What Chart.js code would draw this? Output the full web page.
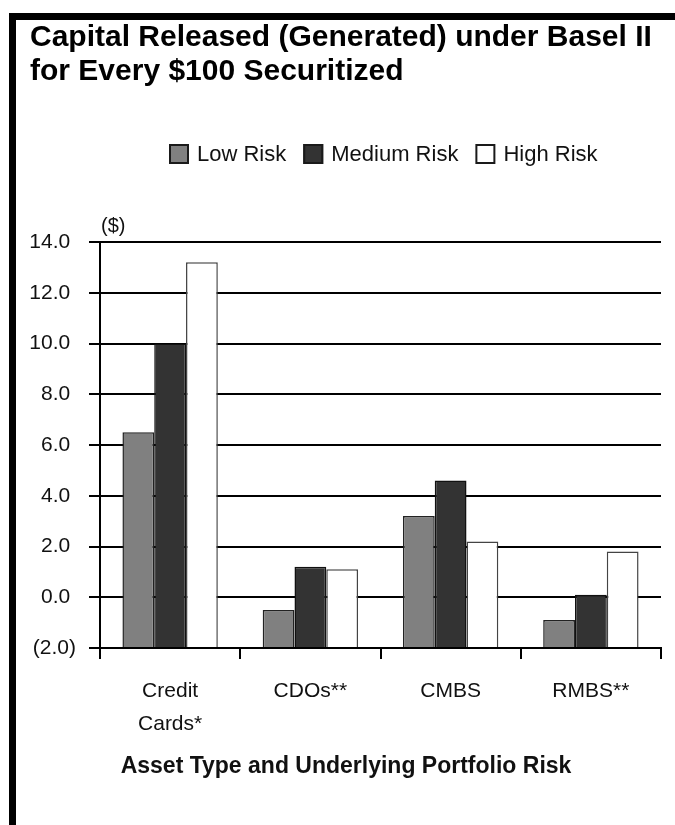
<!DOCTYPE html>
<html>
<head>
<meta charset="utf-8">
<script src="https://cdn.jsdelivr.net/npm/chart.js@4/dist/chart.umd.min.js"></script>
<style>
  html, body { margin: 0; padding: 0; background: #fff; }
  #wrap { position: relative; width: 675px; height: 825px; overflow: hidden; background: #fff; }
  #frame { position: absolute; left: 9px; top: 13px; right: 0; bottom: 0;
           border-top: 7px solid #000; border-left: 7px solid #000; }
  canvas { position: absolute; left: 0; top: 0; }
</style>
</head>
<body>
<div id="wrap">
  <div id="frame"></div>
  <canvas id="chart" width="675" height="825"></canvas>
</div>
<script>
// Asset types on the category axis
const categories = [["Credit", "Cards*"], "CDOs**", "CMBS", "RMBS**"];

// Capital released per $100 securitized, by underlying portfolio risk
const lowRisk = [6.5, -0.5, 3.2, -0.9];
const mediumRisk = [10.0, 1.2, 4.6, 0.1];
const highRisk = [13.2, 1.1, 2.2, 1.8];

const seriesNames = ["Low Risk", "Medium Risk", "High Risk"];

// Value axis range and tick step
const yMin = -2;
const yMax = 14;
const yStep = 2;

const chartTitle = ["Capital Released (Generated) under Basel II", "for Every $100 Securitized"];
const unitLabel = "($)";
const axisTitle = "Asset Type and Underlying Portfolio Risk";

const FONT = "'Liberation Sans', Arial, Helvetica, sans-serif";

// Accounting-style tick text: negatives in parentheses
function fmtTick(v) {
  if (v < 0) return "(" + Math.abs(v).toFixed(1) + ")";
  return v.toFixed(1) + " ";
}

const decorations = {
  id: "decorations",
  afterDraw(chart) {
    const ctx = chart.ctx;
    ctx.save();
    ctx.fillStyle = "#000";

    // Title, two lines, left aligned
    ctx.font = "bold 30px " + FONT;
    ctx.textAlign = "left";
    ctx.textBaseline = "alphabetic";
    ctx.fillText(chartTitle[0], 30, 46);
    ctx.fillText(chartTitle[1], 30, 80);

    // Legend built from the datasets
    ctx.font = "22px " + FONT;
    ctx.textBaseline = "middle";
    let x = 169;
    const boxY = 144, box = 20;
    chart.data.datasets.forEach(ds => {
      ctx.fillStyle = ds.backgroundColor;
      ctx.fillRect(x, boxY, box, box);
      ctx.lineWidth = 2;
      ctx.strokeStyle = "#1a1a1a";
      ctx.strokeRect(x + 1, boxY + 1, box - 2, box - 2);
      ctx.fillStyle = "#111";
      ctx.fillText(ds.label, x + box + 8, boxY + box / 2 + 1);
      x += box + 8 + ctx.measureText(ds.label).width + 17;
    });

    // Unit label above the value axis
    ctx.font = "20px " + FONT;
    ctx.textAlign = "left";
    ctx.fillText(unitLabel, 101, 226);

    // Category axis title
    ctx.font = "bold 23px " + FONT;
    ctx.textAlign = "center";
    ctx.fillText(axisTitle, 346, 767);
    ctx.restore();
  }
};

const barBorder = "#222";

new Chart(document.getElementById("chart"), {
  type: "bar",
  data: {
    labels: categories,
    datasets: [
      { label: seriesNames[0], data: lowRisk, backgroundColor: "#808080", borderColor: barBorder },
      { label: seriesNames[1], data: mediumRisk, backgroundColor: "#333333", borderColor: "#111" },
      { label: seriesNames[2], data: highRisk, backgroundColor: "#ffffff", borderColor: "#444" }
    ]
  },
  options: {
    responsive: false,
    animation: false,
    events: [],
    layout: { padding: { top: 242, left: 0, right: 14, bottom: 0 } },
    datasets: {
      bar: {
        base: yMin,
        borderWidth: 1.5,
        categoryPercentage: 0.68,
        barPercentage: 1.0
      }
    },
    plugins: {
      legend: { display: false },
      title: { display: false },
      tooltip: { enabled: false }
    },
    scales: {
      x: {
        afterFit(scale) { scale.height = 825 - 648; },
        grid: {
          display: true,
          drawOnChartArea: false,
          drawTicks: true,
          tickLength: 11,
          offset: true,
          color: "#000",
          lineWidth: 2
        },
        border: { display: true, color: "#000", width: 2 },
        ticks: {
          color: "#111",
          font: { family: FONT, size: 21, lineHeight: 1.55 },
          padding: 16,
          maxRotation: 0,
          autoSkip: false
        }
      },
      y: {
        min: yMin,
        max: yMax,
        afterFit(scale) { scale.width = 100; },
        afterBuildTicks(scale) {
          const t = [];
          for (let v = yMin; v <= yMax + 1e-9; v += yStep) t.push({ value: v });
          scale.ticks = t;
        },
        grid: {
          color: "#000",
          lineWidth: 2,
          tickLength: 11,
          drawTicks: true
        },
        border: { display: true, color: "#000", width: 2 },
        ticks: {
          color: "#111",
          font: { family: FONT, size: 21 },
          padding: 13,
          callback: (v) => fmtTick(v)
        }
      }
    }
  },
  plugins: [decorations]
});
</script>
</body>
</html>
